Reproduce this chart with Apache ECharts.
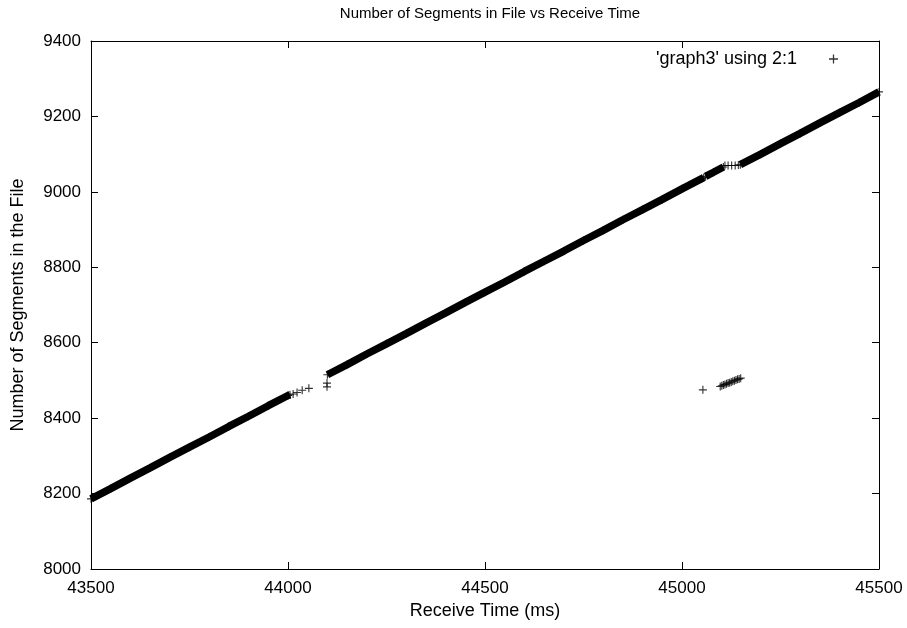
<!DOCTYPE html>
<html>
<head>
<meta charset="utf-8">
<script src="https://cdn.jsdelivr.net/npm/echarts@6/dist/echarts.min.js"></script>
<style>
  html, body { margin: 0; padding: 0; background: #fff; }
  #chart { width: 907px; height: 628px; }
</style>
</head>
<body>
<div id="chart"></div>
<script>
// ---- data (receive time in ms, segment number) ----
const seg1T = [43500, 43550, 43600, 43650, 43700, 43750, 43800, 43850, 43900, 43950, 44000, 44005];
const seg1S = [8186, 8213, 8241, 8268, 8296, 8323, 8350, 8378, 8405, 8433, 8460, 8462];

const gap1T = [44013, 44023, 44036, 44053, 44099, 44099];
const gap1S = [8464, 8468, 8474, 8479, 8483, 8493];

const seg2T = [44100, 44150, 44200, 44250, 44300, 44350, 44400, 44450, 44500, 44550, 44600, 44650,
               44700, 44750, 44800, 44850, 44900, 44950, 45000, 45050, 45055];
const seg2S = [8515, 8542, 8570, 8597, 8624, 8652, 8679, 8707, 8734, 8761, 8789, 8816,
               8843, 8871, 8898, 8926, 8953, 8980, 9008, 9035, 9038];

const seg3T = [45060, 45080, 45105];
const seg3S = [9041, 9052, 9066];

const flatT = [45109, 45117, 45126, 45135, 45143];
const flatS = [9070, 9070, 9070, 9070, 9071];

const seg4T = [45148, 45200, 45250, 45300, 45350, 45400, 45450, 45500];
const seg4S = [9072, 9100, 9128, 9155, 9183, 9210, 9237, 9265];

const strayT = [45053, 45097, 45101, 45105, 45109, 45113, 45117, 45121, 45125, 45129, 45133, 45137, 45141, 45145, 45149];
const strayS = [8475, 8484, 8486, 8488, 8489, 8491, 8493, 8494, 8496, 8498, 8499, 8501, 8503, 8504, 8506];

const xTicks = [43500, 44000, 44500, 45000, 45500];
const yTicks = [8000, 8200, 8400, 8600, 8800, 9000, 9200, 9400];

const seriesName = "'graph3' using 2:1";
const titleText = 'Number of Segments in File vs Receive Time';
const xName = 'Receive Time (ms)';
const yName = 'Number of Segments in the File';

// ---- build ----
const zip = (a, b) => a.map((v, i) => [v, b[i]]);
const bands = [zip(seg1T, seg1S), zip(seg2T, seg2S), zip(seg3T, seg3S), zip(seg4T, seg4S)];
const allPoints = [].concat(
  zip(seg1T, seg1S), zip(gap1T, gap1S), zip(seg2T, seg2S), zip(seg3T, seg3S),
  zip(flatT, flatS), zip(seg4T, seg4S), zip(strayT, strayS)
);

const PLUS = 'path://M4.3,0H5.7V10H4.3Z M0,4.3H10V5.7H0Z';
const FONT = 'Liberation Sans, Arial, Helvetica, sans-serif';

const chart = echarts.init(document.getElementById('chart'), null, { renderer: 'canvas' });

const xMin = xTicks[0], xMax = xTicks[xTicks.length - 1];
const yMin = yTicks[0], yMax = yTicks[yTicks.length - 1];
const plain = v => String(v);

const baseAxis = {
  type: 'value',
  splitLine: { show: false },
  axisLine: { show: true, lineStyle: { color: '#000', width: 1 } },
  axisTick: { show: true, inside: true, length: 7, lineStyle: { color: '#000', width: 1 } },
  animation: false
};

const option = {
  animation: false,
  backgroundColor: '#fff',
  title: {
    text: titleText,
    left: 485,
    textAlign: 'center',
    top: 1,
    textStyle: { fontFamily: FONT, fontSize: 15, fontWeight: 'normal', color: '#000' }
  },
  legend: {
    data: [{ name: seriesName, icon: PLUS }],
    right: 64,
    top: 45,
    align: 'right',
    itemWidth: 9,
    itemHeight: 9,
    selectedMode: false,
    textStyle: { fontFamily: FONT, fontSize: 18, color: '#000', padding: [0, 27, 0, 0] }
  },
  grid: { left: 91, right: 28, top: 41, bottom: 59, containLabel: false },
  xAxis: [
    Object.assign({}, baseAxis, {
      position: 'bottom', min: xMin, max: xMax, interval: 500,
      name: xName, nameLocation: 'middle', nameGap: 31,
      nameTextStyle: { fontFamily: FONT, fontSize: 18, color: '#000' },
      axisLabel: { fontFamily: FONT, fontSize: 17, color: '#000', margin: 11, formatter: plain }
    }),
    Object.assign({}, baseAxis, {
      position: 'top', min: xMin, max: xMax, interval: 500,
      axisLabel: { show: false }
    })
  ],
  yAxis: [
    Object.assign({}, baseAxis, {
      position: 'left', min: yMin, max: yMax, interval: 200,
      name: yName, nameLocation: 'middle', nameGap: 64, nameRotate: 90,
      nameTextStyle: { fontFamily: FONT, fontSize: 18, color: '#000' },
      axisLabel: { fontFamily: FONT, fontSize: 17, color: '#000', margin: 10, formatter: plain }
    }),
    Object.assign({}, baseAxis, {
      position: 'right', min: yMin, max: yMax, interval: 200,
      axisLabel: { show: false }
    })
  ],
  series: bands.map((d, i) => ({
    name: 'band' + i,
    type: 'line',
    data: d,
    xAxisIndex: 0,
    yAxisIndex: 0,
    showSymbol: false,
    silent: true,
    lineStyle: { color: '#000', width: 7.5, cap: 'butt' },
    z: 2
  })).concat([{
    name: seriesName,
    type: 'scatter',
    data: allPoints,
    xAxisIndex: 0,
    yAxisIndex: 0,
    symbol: PLUS,
    symbolSize: 8,
    itemStyle: { color: '#000' },
    silent: true,
    z: 3
  }])
};

chart.setOption(option);
</script>
</body>
</html>
